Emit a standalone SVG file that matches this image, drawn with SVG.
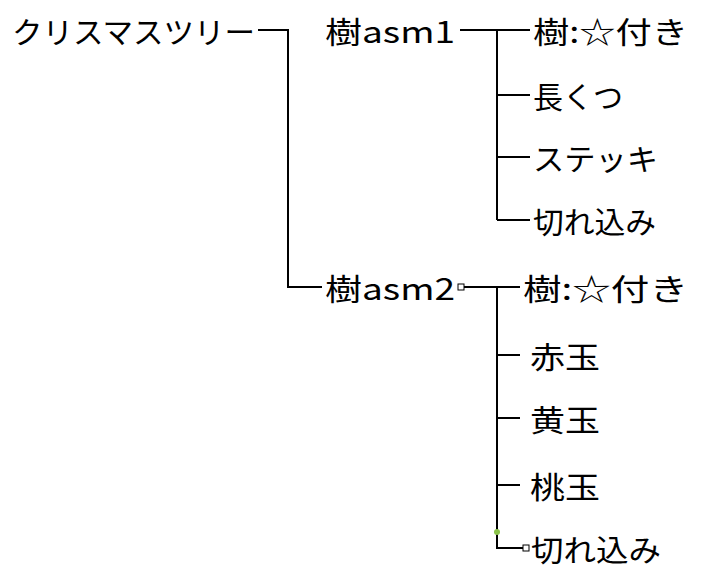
<svg xmlns="http://www.w3.org/2000/svg" width="711" height="576" viewBox="0 0 711 576">
<style>
text{font-family:"Noto Sans CJK JP","Noto Sans",sans-serif;font-size:30px;font-weight:400;fill:#000;dominant-baseline:central}
.l{stroke:#000;stroke-width:2;fill:none}
.s{fill:#fff;stroke:#000;stroke-width:1}
</style>
<rect width="711" height="576" fill="#fff"/>
<g id="connectors">
<path class="l" d="M258 30H288V287H322"/>
<path class="l" d="M460 30H530M497 30V220M497 95H530M497 157H530M497 220H530"/>
<path class="l" d="M464 287H520M497 287V548H523M497 355H520M497 418H520M497 485H520"/>
<rect class="s" x="458" y="284" width="6" height="6"/>
<rect class="s" x="523" y="545" width="6" height="6"/>
<circle cx="497" cy="532" r="3" fill="#8bc34a"/>
</g>
<g id="root"><text x="12" y="30" textLength="243" lengthAdjust="spacingAndGlyphs">クリスマスツリー</text></g>
<g id="asm1"><text x="325" y="30" textLength="130" lengthAdjust="spacingAndGlyphs">樹asm1</text></g>
<g id="asm2"><text x="325" y="287" textLength="130" lengthAdjust="spacingAndGlyphs">樹asm2</text></g>
<g id="a1"><text x="533" y="30" textLength="155" lengthAdjust="spacingAndGlyphs">樹:☆付き</text></g>
<g id="a2"><text x="533" y="95" textLength="90" lengthAdjust="spacingAndGlyphs">長くつ</text></g>
<g id="a3"><text x="533" y="157" textLength="125" lengthAdjust="spacingAndGlyphs">ステッキ</text></g>
<g id="a4"><text x="533" y="220" textLength="123" lengthAdjust="spacingAndGlyphs">切れ込み</text></g>
<g id="b1"><text x="523" y="287" textLength="165" lengthAdjust="spacingAndGlyphs">樹:☆付き</text></g>
<g id="b2"><text x="530" y="355" textLength="70" lengthAdjust="spacingAndGlyphs">赤玉</text></g>
<g id="b3"><text x="530" y="418" textLength="70" lengthAdjust="spacingAndGlyphs">黄玉</text></g>
<g id="b4"><text x="530" y="485" textLength="70" lengthAdjust="spacingAndGlyphs">桃玉</text></g>
<g id="b5"><text x="531" y="548" textLength="130" lengthAdjust="spacingAndGlyphs">切れ込み</text></g>
</svg>
